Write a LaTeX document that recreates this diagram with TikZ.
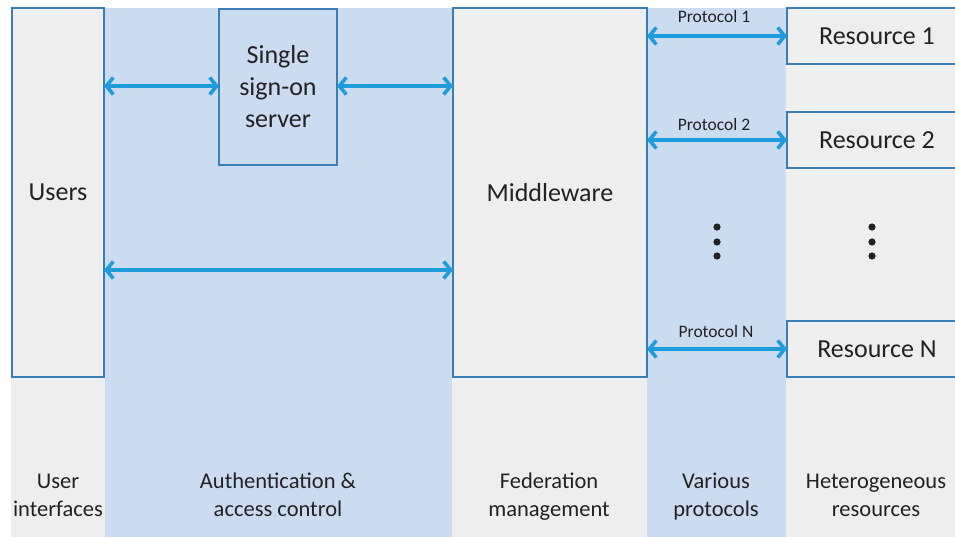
\documentclass[tikz,border=0pt]{standalone}
\usepackage{fontspec}
\setmainfont{Carlito}
\usetikzlibrary{arrows.meta}
\definecolor{bandgray}{HTML}{EEEEEE}
\definecolor{bandblue}{HTML}{CBDCF0}
\definecolor{edgeblue}{HTML}{3B7EB4}
\definecolor{arrblue}{HTML}{1F9CDB}
\definecolor{txt}{HTML}{222222}
\tikzset{
  box/.style={draw=edgeblue, line width=1.4pt, inner sep=0pt, outer sep=0pt, text=txt, font=\fontsize{26}{32}\selectfont, align=center},
  arr/.style={draw=arrblue, line width=3.6pt, {Straight Barb[length=7pt,width=17pt]}-{Straight Barb[length=7pt,width=17pt]}},
  proto/.style={text=txt, font=\fontsize{17.5}{20}\selectfont, inner sep=0pt},
  bottom/.style={text=txt, font=\fontsize{22.5}{28}\selectfont, align=center, inner sep=0pt},
  dot/.style={fill=txt, draw=none}
}
\begin{document}
\begin{tikzpicture}[x=1pt,y=-1pt]
\useasboundingbox (0,0) rectangle (955,537);
\fill[white] (0,0) rectangle (955,537);
% bands
\fill[bandgray] (11,8) rectangle (105,537);
\fill[bandblue] (105,8) rectangle (452,537);
\fill[bandgray] (452,8) rectangle (647,537);
\fill[bandblue] (647,8) rectangle (786,537);
\fill[bandgray] (786,8) rectangle (955,537);
% boxes
\node[box, fill=bandgray, minimum width=92pt, minimum height=369pt] (users) at (58,192.5) {Users};
\node[box, fill=bandblue, minimum width=118pt, minimum height=156pt] (sso) at (278,87) {Single\\sign-on\\server};
\node[box, fill=bandgray, minimum width=194pt, minimum height=369pt] (mw) at (550,192.5) {Middleware};
\node[box, fill=bandgray, minimum width=180pt, minimum height=56pt] (r1) at (877,36) {Resource 1};
\node[box, fill=bandgray, minimum width=180pt, minimum height=56pt] (r2) at (877,140) {Resource 2};
\node[box, fill=bandgray, minimum width=180pt, minimum height=56pt] (rn) at (877,349) {Resource N};
% arrows
\coordinate (topy) at (0,86);
\coordinate (lowy) at (0,270);
\draw[arr] (users.east |- topy) -- (sso.west |- topy);
\draw[arr] (sso.east |- topy) -- (mw.west |- topy);
\draw[arr] (users.east |- lowy) -- (mw.west |- lowy);
\draw[arr] (mw.east |- r1.west) -- (r1.west);
\draw[arr] (mw.east |- r2.west) -- (r2.west);
\draw[arr] (mw.east |- rn.west) -- (rn.west);
\node[proto] (p1) at (714,16) {Protocol 1};
\node[proto] (p2) at (714,124) {Protocol 2};
\node[proto] (pn) at (716,331) {Protocol N};
% dots
\foreach \yy in {227,242,256}{
  \fill[dot] (717,\yy) circle (3.6pt);
  \fill[dot] (872,\yy) circle (3.6pt);
}
% bottom labels
\node[bottom] (l1) at (58,497) {\strut User\\\strut interfaces};
\node[bottom] (l2) at (278,497) {\strut Authentication \&\\\strut access control};
\node[bottom] (l3) at (549,497) {\strut Federation\\\strut management};
\node[bottom] (l4) at (716,497) {\strut Various\\\strut protocols};
\node[bottom] (l5) at (876,497) {\strut Heterogeneous\\\strut resources};
\end{tikzpicture}
\end{document}
